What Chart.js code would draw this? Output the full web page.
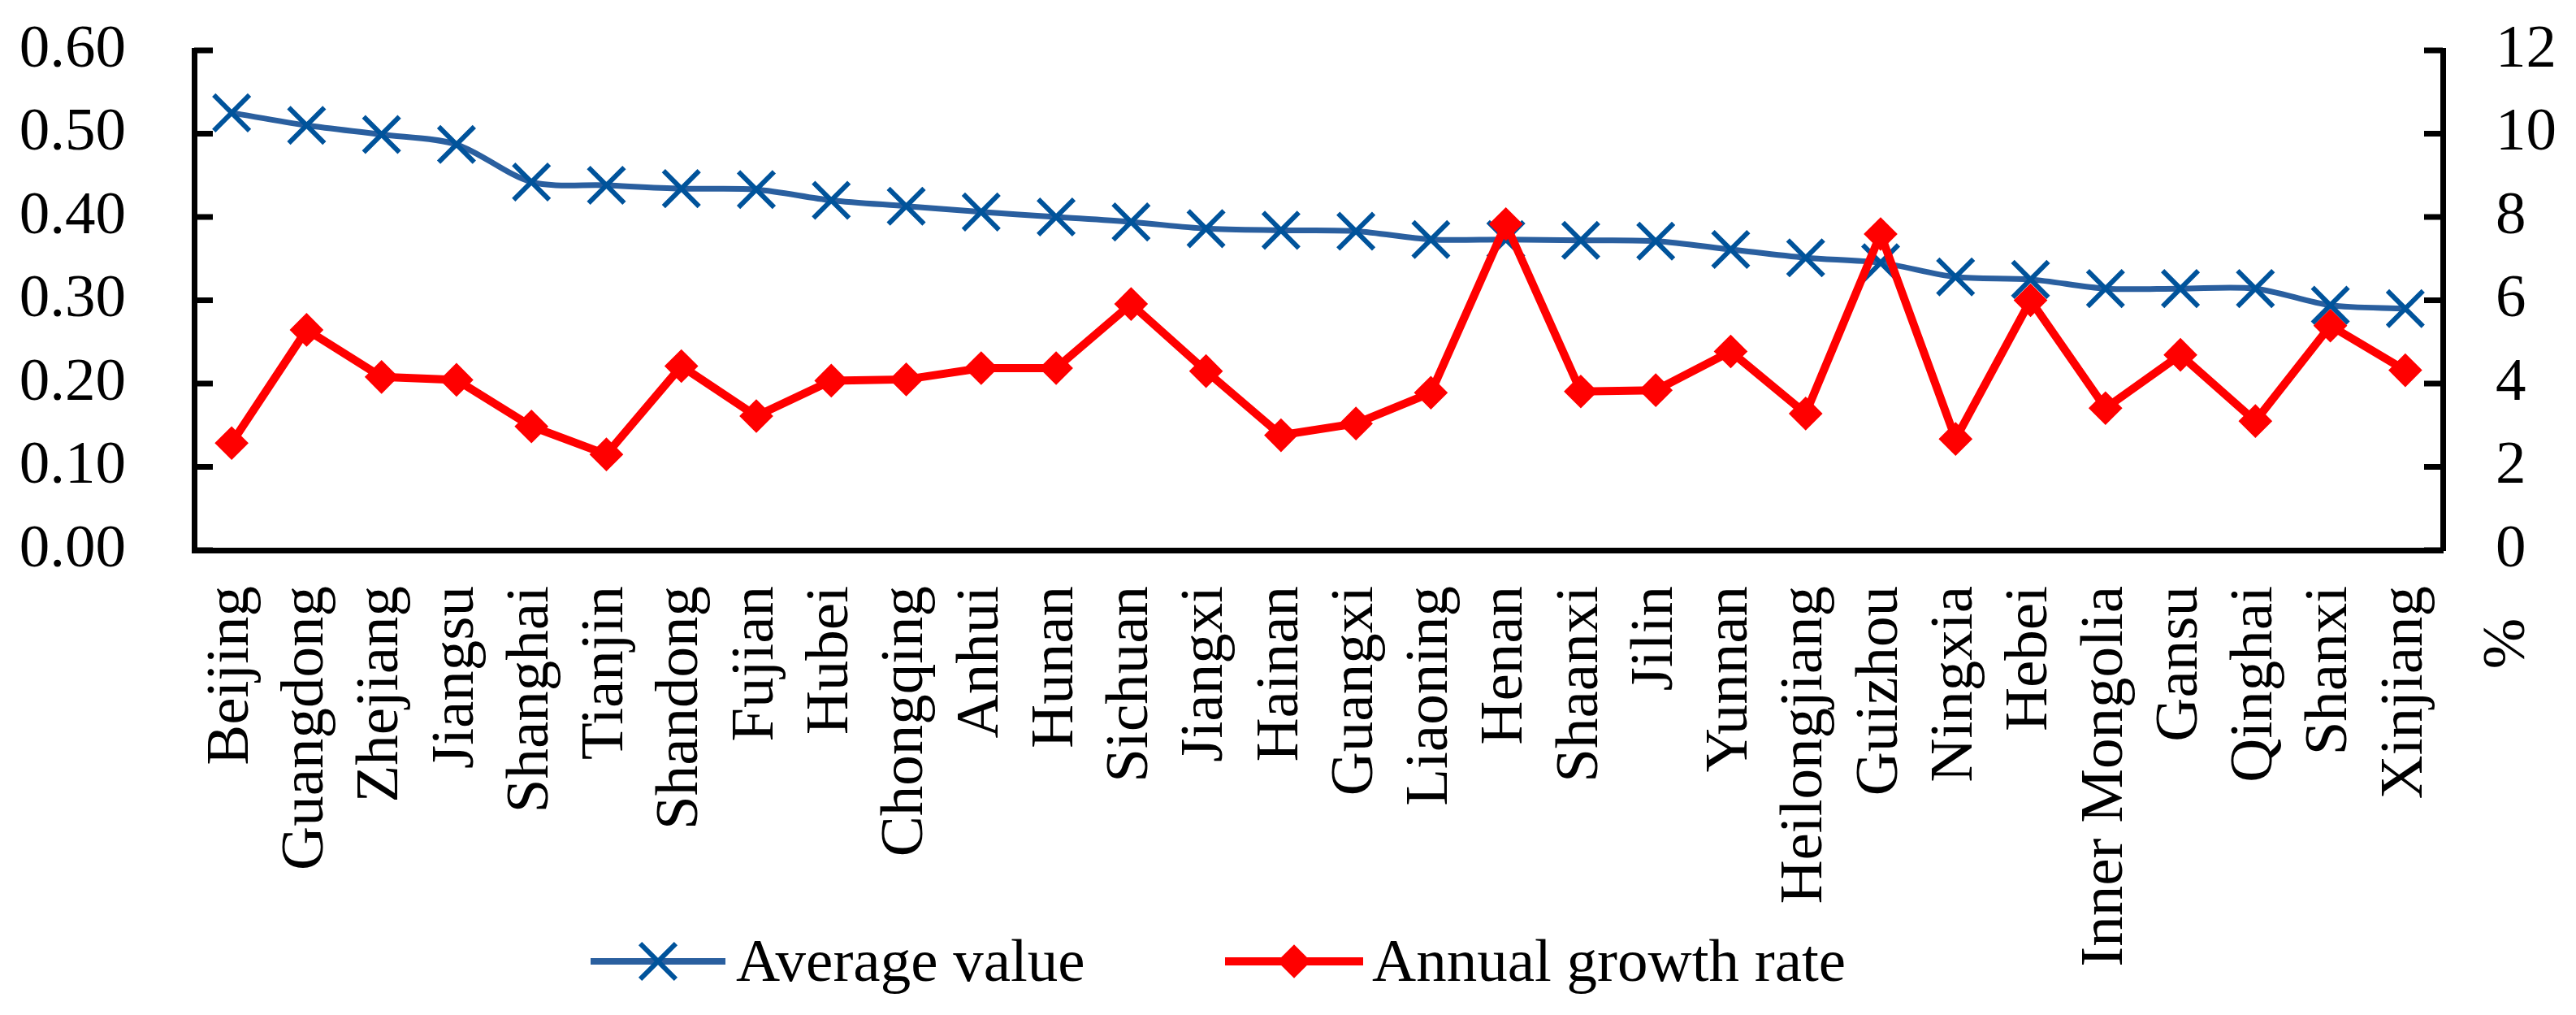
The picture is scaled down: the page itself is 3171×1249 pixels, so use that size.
<!DOCTYPE html>
<html><head><meta charset="utf-8">
<script src="https://cdn.jsdelivr.net/npm/chart.js@4.4.0/dist/chart.umd.min.js"></script>
<style>html,body{margin:0;padding:0;background:#fff;} #wrap{width:3171px;height:1249px;position:relative;}</style>
</head><body><div id="wrap"><canvas id="c"></canvas></div>
<script>
const provinces = ['Beijing','Guangdong','Zhejiang','Jiangsu','Shanghai','Tianjin','Shandong','Fujian','Hubei','Chongqing','Anhui','Hunan','Sichuan','Jiangxi','Hainan','Guangxi','Liaoning','Henan','Shaanxi','Jilin','Yunnan','Heilongjiang','Guizhou','Ningxia','Hebei','Inner Mongolia','Gansu','Qinghai','Shanxi','Xinjiang'];
const averageValue = [0.525,0.510,0.499,0.487,0.442,0.438,0.434,0.433,0.420,0.413,0.406,0.400,0.394,0.386,0.384,0.383,0.373,0.373,0.372,0.371,0.361,0.351,0.345,0.328,0.325,0.314,0.314,0.314,0.294,0.290];
const growthRate = [2.57,5.29,4.16,4.09,2.97,2.30,4.42,3.22,4.07,4.10,4.37,4.37,5.91,4.30,2.76,3.04,3.78,7.83,3.81,3.84,4.77,3.28,7.59,2.67,6.00,3.41,4.69,3.10,5.39,4.32];
const leftTickValues = [0, 0.1, 0.2, 0.3, 0.4, 0.5, 0.6];
const rightTickValues = [0, 2, 4, 6, 8, 10, 12];
const seriesNames = ['Average value', 'Annual growth rate'];
const rightAxisUnit = '%';

const FONT = '"Liberation Serif", "Times New Roman", serif';
const FS_TICK = 75;
const FS_CAT = 75;
const FS_LEG = 75;
const BLUE_LINE = '#2a5f9f';
const BLUE_MARK = '#00539b';
const RED = '#ff0000';

const tickMarks = {
  id: 'tickMarks',
  afterDraw(chart) {
    const ctx = chart.ctx;
    ctx.save();
    ctx.strokeStyle = '#000';
    ctx.lineWidth = 7;
    const ys = chart.scales.y, yr = chart.scales.y1;
    const L = chart.chartArea.left, R = chart.chartArea.right;
    ys.ticks.forEach(t => { const p = ys.getPixelForValue(t.value); ctx.beginPath(); ctx.moveTo(L, p); ctx.lineTo(L + 23, p); ctx.stroke(); });
    yr.ticks.forEach(t => { const p = yr.getPixelForValue(t.value); ctx.beginPath(); ctx.moveTo(R, p); ctx.lineTo(R - 23, p); ctx.stroke(); });
    // unit label of right axis
    ctx.fillStyle = '#000';
    ctx.font = FS_TICK + 'px ' + FONT;
    ctx.translate(3087, 792);
    ctx.rotate(-Math.PI / 2);
    ctx.textAlign = 'center';
    ctx.textBaseline = 'middle';
    ctx.fillText(rightAxisUnit, 0, 0);
    ctx.restore();
  }
};

const customLegend = {
  id: 'customLegend',
  afterDraw(chart) {
    const ctx = chart.ctx;
    const ly = 1183;
    ctx.save();
    ctx.strokeStyle = BLUE_LINE; ctx.lineWidth = 8; ctx.lineCap = 'butt';
    ctx.beginPath(); ctx.moveTo(727, ly); ctx.lineTo(893, ly); ctx.stroke();
    ctx.strokeStyle = BLUE_MARK; ctx.lineWidth = 6;
    Chart.helpers.drawPoint(ctx, {pointStyle: 'crossRot', radius: 31, rotation: 0, borderWidth: 6}, 810, ly);
    ctx.strokeStyle = RED; ctx.lineWidth = 10;
    ctx.beginPath(); ctx.moveTo(1508, ly); ctx.lineTo(1678, ly); ctx.stroke();
    ctx.fillStyle = RED; ctx.lineWidth = 4;
    Chart.helpers.drawPoint(ctx, {pointStyle: 'rectRot', radius: 18, rotation: 0, borderWidth: 4}, 1593, ly);
    ctx.fillStyle = '#000';
    ctx.font = FS_LEG + 'px ' + FONT;
    ctx.textBaseline = 'alphabetic';
    ctx.textAlign = 'left';
    ctx.fillText(seriesNames[0], 906, 1207);
    ctx.fillText(seriesNames[1], 1689, 1207);
    ctx.restore();
  }
};

new Chart(document.getElementById('c'), {
  type: 'line',
  data: {
    labels: provinces,
    datasets: [
      {
        label: seriesNames[0], data: averageValue, yAxisID: 'y', order: 2,
        borderColor: BLUE_LINE, borderWidth: 7, tension: 0.3,
        pointStyle: 'crossRot', pointRadius: 31, pointBorderWidth: 6,
        pointBorderColor: BLUE_MARK, pointBackgroundColor: BLUE_MARK,
        pointHoverRadius: 31
      },
      {
        label: seriesNames[1], data: growthRate, yAxisID: 'y1', order: 1,
        borderColor: RED, borderWidth: 10, tension: 0,
        pointStyle: 'rectRot', pointRadius: 18, pointBorderWidth: 4,
        pointBorderColor: RED, pointBackgroundColor: RED,
        pointHoverRadius: 18
      }
    ]
  },
  options: {
    responsive: true, maintainAspectRatio: false, devicePixelRatio: 1, animation: false,
    layout: { padding: { left: 24, right: 24, top: 62, bottom: 0 } },
    plugins: { legend: { display: false }, tooltip: { enabled: false } },
    scales: {
      x: {
        offset: true,
        grid: { display: false, drawTicks: false },
        border: { display: true, color: '#000', width: 7 },
        afterFit: s => { s.height = 572; s.paddingLeft = 0; s.paddingRight = 0; },
        ticks: { autoSkip: false, minRotation: 90, maxRotation: 90, padding: 44, color: '#000', font: { family: FONT, size: FS_CAT } }
      },
      y: {
        position: 'left', min: 0, max: 0.6,
        afterBuildTicks: s => { s.ticks = leftTickValues.map(v => ({ value: v })); },
        afterFit: s => { s.width = 215; s.paddingTop = 0; s.paddingBottom = 0; },
        grid: { display: false, drawTicks: false },
        border: { display: true, color: '#000', width: 7 },
        ticks: { autoSkip: false, padding: 84, color: '#000', font: { family: FONT, size: FS_TICK }, callback: v => Number(v).toFixed(2) }
      },
      y1: {
        position: 'right', min: 0, max: 12,
        afterBuildTicks: s => { s.ticks = rightTickValues.map(v => ({ value: v })); },
        afterFit: s => { s.width = 140; s.paddingTop = 0; s.paddingBottom = 0; },
        grid: { display: false, drawTicks: false },
        border: { display: true, color: '#000', width: 7 },
        ticks: { autoSkip: false, padding: 65, color: '#000', font: { family: FONT, size: FS_TICK }, callback: v => String(v) }
      }
    }
  },
  plugins: [tickMarks, customLegend]
});
</script>
</body></html>
